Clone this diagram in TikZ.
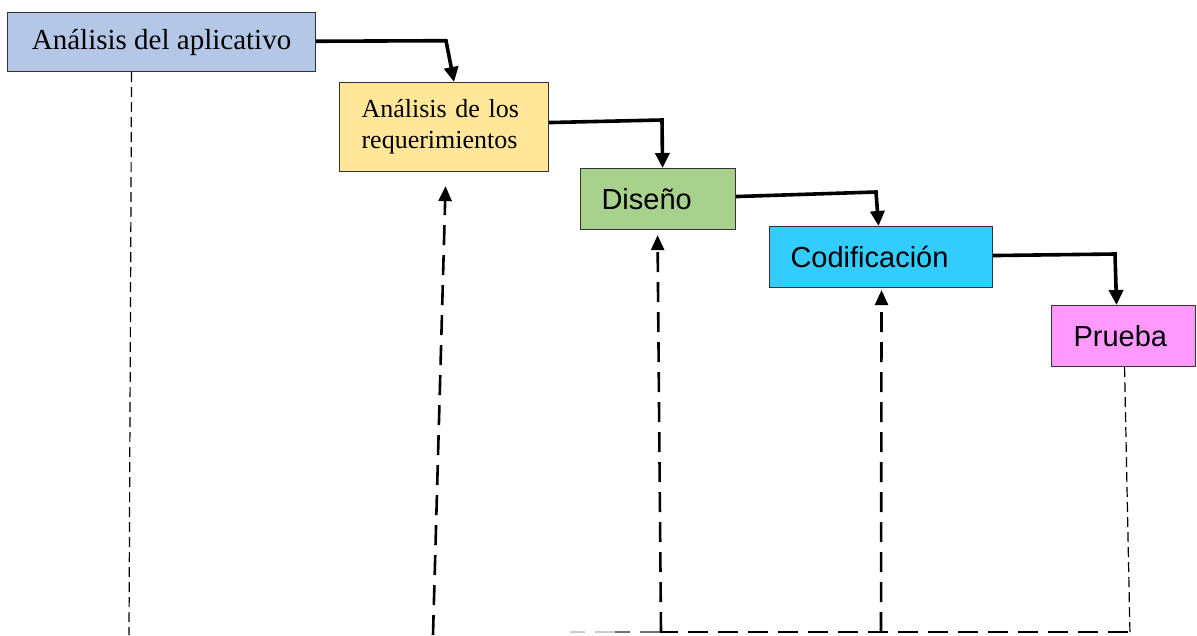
\documentclass[tikz,border=0pt]{standalone}
\usepackage{fontspec}
\setmainfont{Liberation Serif}
\newfontfamily\arialfont{Liberation Sans}
\usetikzlibrary{arrows.meta,calc}
\definecolor{cblue}{HTML}{B4C7E7}
\definecolor{cyellow}{HTML}{FFE699}
\definecolor{cgreen}{HTML}{A9D18E}
\definecolor{ccyan}{HTML}{33CCFF}
\definecolor{cpink}{HTML}{FF99FF}
\begin{document}
\begin{tikzpicture}[x=1pt,y=-1pt,
  box/.style={draw=black!80, line width=1.1pt, anchor=north west, inner ysep=0pt},
  serifbox/.style={box, font=\fontsize{29}{33}\selectfont, align=center},
  sansbox/.style={box, font=\arialfont\fontsize{29}{32}\selectfont, align=left},
  flow/.style={line width=3.6pt, -{Triangle[length=15pt,width=14pt]}},
  back/.style={line width=2.6pt, dash pattern=on 20pt off 10pt, -{Triangle[length=15pt,width=13pt]}},
  thindash/.style={line width=1.2pt, dash pattern=on 10pt off 5pt}]
\useasboundingbox (0,0) rectangle (1197,635);
\fill[white] (0,0) rectangle (1197,635);

% boxes
\node[serifbox, fill=cblue, minimum width=308pt, minimum height=59pt, inner xsep=0pt] (a1) at (7,12) {Análisis del aplicativo};
\node[box, fill=cyellow, font=\fontsize{26}{31}\selectfont, align=left, text width=165pt, inner xsep=22pt, minimum height=89pt] (a2) at (339,82) {Análisis de los\\requerimientos};
\node[sansbox, fill=cgreen, text width=113pt, inner xsep=21pt, minimum height=61pt] (a3) at (580,168) {Diseño};
\node[sansbox, fill=ccyan, text width=181pt, inner xsep=21pt, minimum height=61pt] (a4) at (769,226) {Codificación};
\node[sansbox, fill=cpink, text width=100pt, inner xsep=22pt, minimum height=61pt] (a5) at (1051,305) {Prueba};

% forward flow
\draw[flow] ([yshift=0.8pt]a1.east) -- (446,40.7) -- ([xshift=10pt]a2.north);
\draw[flow] ([yshift=4.5pt]a2.east) -- (662,120) -- ([xshift=4.5pt]a3.north);
\draw[flow] ([yshift=2.5pt]a3.east) -- (876,192) -- ([xshift=-2.5pt]a4.north);
\draw[flow] ([yshift=1.5pt]a4.east) -- (1115,254) -- ([xshift=-7pt]a5.north);

% feedback
\coordinate (b1) at (129,635);
\coordinate (corner) at (1128,632);
\coordinate (h1) at (660,632);
\coordinate (h2) at (615,632);
\coordinate (h3) at (570,632);
\coordinate (s2) at (433,635);
\coordinate (s3) at (661,632);
\coordinate (s4) at (881,632);
\coordinate (b5) at (1130,635);

\draw[thindash] ([xshift=-30pt]a1.south) -- (b1);
\draw[thindash] ([xshift=1pt]a5.south) -- (b5);
\draw[line width=2.6pt, dash pattern=on 20pt off 10pt] (corner) -- (h1);
\draw[line width=2.6pt, dash pattern=on 20pt off 10pt, black!55] (h1) -- (h2);
\draw[line width=2.6pt, dash pattern=on 20pt off 10pt, black!20] (h2) -- (h3);
\draw[back] (s2) -- ($(a2.south)+(1.5,14)$);
\draw[back] (s3) -- ($(a3.south)+(-0.5,5)$);
\draw[back] (s4) -- ($(a4.south)+(0.5,2)$);
\end{tikzpicture}
\end{document}
